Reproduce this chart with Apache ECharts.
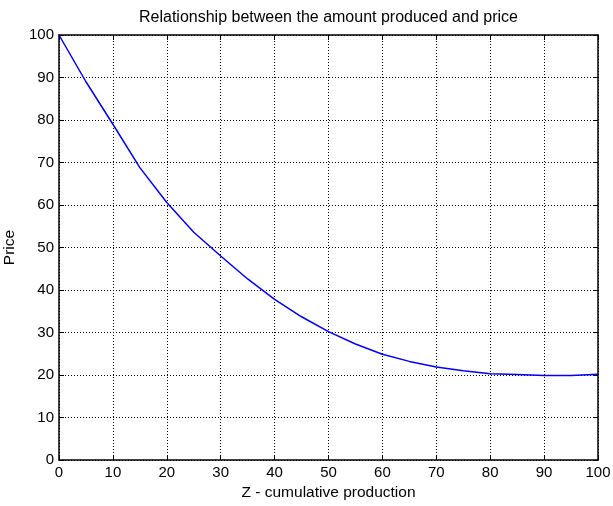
<!DOCTYPE html>
<html>
<head>
<meta charset="utf-8">
<script src="https://cdn.jsdelivr.net/npm/echarts@6/dist/echarts.min.js"></script>
<style>
html,body{margin:0;padding:0;background:#fff;}
#chart{width:613px;height:506px;}
</style>
</head>
<body>
<div id="chart"></div>
<script>
var zValues = [0, 5, 10, 15, 20, 25, 30, 35, 40, 45, 50, 55, 60, 65, 70, 75, 80, 85, 90, 95, 100];
var priceValues = [100, 89, 79, 68.8, 60.6, 53.6, 48, 42.6, 37.8, 33.7, 30.2, 27.3, 24.9, 23.2, 21.9, 21, 20.3, 20.1, 19.9, 19.9, 20.2];
var xTicks = [0, 10, 20, 30, 40, 50, 60, 70, 80, 90, 100];
var yTicks = [0, 10, 20, 30, 40, 50, 60, 70, 80, 90, 100];

var FONT = 'Liberation Sans, Arial, sans-serif';
var seriesData = zValues.map(function (z, i) { return [z, priceValues[i]]; });

var chart = echarts.init(document.getElementById('chart'), null, {renderer: 'canvas'});
var axisLineStyle = {color: '#000', width: 1.5};
var gridLineStyle = {color: '#000', width: 1, type: [1, 2]};

chart.setOption({
  backgroundColor: '#fff',
  animation: false,
  title: {
    text: 'Relationship between the amount produced and price',
    left: 139, top: 10, padding: 0,
    textStyle: {fontFamily: FONT, fontSize: 16, fontWeight: 'normal', color: '#000'}
  },
  grid: {left: 59, right: 15, top: 35, bottom: 46, containLabel: false, outerBoundsMode: 'none'},
  xAxis: [{
    type: 'value', min: xTicks[0], max: xTicks[xTicks.length - 1], interval: 10, position: 'bottom',
    name: 'Z - cumulative production', nameLocation: 'middle', nameGap: 23,
    nameTextStyle: {fontFamily: FONT, fontSize: 15.5, color: '#000'},
    axisLine: {show: true, lineStyle: axisLineStyle},
    axisTick: {show: true, inside: true, length: 5, lineStyle: {color: '#000', width: 1}},
    axisLabel: {fontFamily: FONT, fontSize: 15, color: '#000', margin: 5},
    splitLine: {show: true, lineStyle: gridLineStyle}
  }, {
    type: 'value', min: xTicks[0], max: xTicks[xTicks.length - 1], interval: 10, position: 'top',
    axisLine: {show: true, onZero: false, lineStyle: axisLineStyle},
    axisTick: {show: true, inside: true, length: 5, lineStyle: {color: '#000', width: 1}},
    axisLabel: {show: false}, splitLine: {show: false}
  }],
  yAxis: [{
    type: 'value', min: yTicks[0], max: yTicks[yTicks.length - 1], interval: 10, position: 'left',
    name: 'Price', nameLocation: 'middle', nameGap: 32, nameRotate: 90,
    nameTextStyle: {fontFamily: FONT, fontSize: 15.5, color: '#000'},
    axisLine: {show: true, onZero: false, lineStyle: axisLineStyle},
    axisTick: {show: true, inside: true, length: 5, lineStyle: {color: '#000', width: 1}},
    axisLabel: {fontFamily: FONT, fontSize: 15, color: '#000', margin: 5},
    splitLine: {show: true, lineStyle: gridLineStyle}
  }, {
    type: 'value', min: yTicks[0], max: yTicks[yTicks.length - 1], interval: 10, position: 'right',
    axisLine: {show: true, onZero: false, lineStyle: axisLineStyle},
    axisTick: {show: true, inside: true, length: 5, lineStyle: {color: '#000', width: 1}},
    axisLabel: {show: false}, splitLine: {show: false}
  }],
  series: [{
    type: 'line', xAxisIndex: 0, yAxisIndex: 0,
    data: seriesData, showSymbol: false, symbol: 'none', smooth: false,
    lineStyle: {color: '#0000ff', width: 1.5},
    z: 3
  }]
});
</script>
</body>
</html>
